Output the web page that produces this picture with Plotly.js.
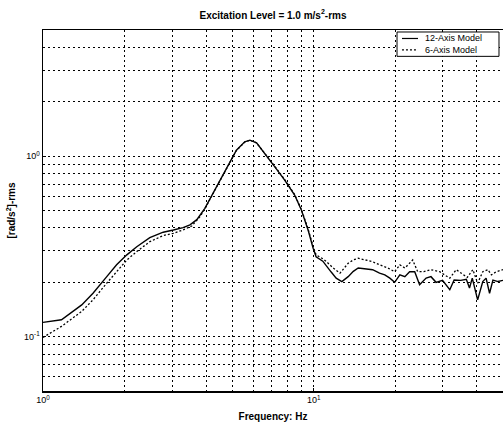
<!DOCTYPE html>
<html>
<head>
<meta charset="utf-8">
<script src="https://cdn.plot.ly/plotly-3.0.1.min.js"></script>
<style>html,body{margin:0;padding:0;background:#fff;}#chart{width:503px;height:422px;}</style>
</head>
<body>
<div id="chart"></div>
<script>
// Frequency (Hz) and angular acceleration ([rad/s^2]-rms)
const freq12 = [1, 1.17, 1.39, 1.53, 1.72, 1.87, 2.04, 2.22, 2.48, 2.78, 3.03, 3.29, 3.49, 3.7, 3.96, 4.37, 4.76, 5.18, 5.56, 5.81, 6.15, 6.6, 7.18, 7.81, 8.5, 9.0, 9.53, 9.95, 10.2, 10.8, 11.15, 11.6, 12.1, 12.7, 13.4, 14.0, 14.6, 15.5, 16.5, 17.5, 18.3, 19.1, 19.9, 20.8, 21.7, 22.6, 23.6, 24.6, 26.0, 27.1, 28.3, 29.9, 31.8, 33.0, 34.9, 36.6, 37.6, 38.5, 40.3, 42.1, 43.3, 44.6, 45.9, 47.9, 50];
const val12 = [0.12, 0.124, 0.150, 0.174, 0.215, 0.25, 0.284, 0.315, 0.354, 0.379, 0.39, 0.402, 0.416, 0.445, 0.514, 0.677, 0.855, 1.079, 1.2, 1.226, 1.184, 1.035, 0.873, 0.737, 0.609, 0.503, 0.39, 0.309, 0.277, 0.262, 0.245, 0.228, 0.211, 0.202, 0.215, 0.23, 0.24, 0.238, 0.235, 0.225, 0.22, 0.211, 0.2, 0.22, 0.215, 0.229, 0.229, 0.194, 0.211, 0.215, 0.2, 0.205, 0.182, 0.206, 0.205, 0.208, 0.186, 0.211, 0.16, 0.202, 0.211, 0.174, 0.206, 0.202, 0.205];
const freq6 = [1, 1.17, 1.39, 1.53, 1.72, 1.87, 2.04, 2.22, 2.48, 2.78, 3.03, 3.29, 3.54, 3.8, 3.96, 4.37, 4.76, 5.18, 5.56, 5.81, 6.15, 6.6, 7.18, 7.81, 8.5, 9.0, 9.53, 9.95, 10.2, 10.8, 11.15, 11.8, 12.5, 13.4, 14.0, 14.6, 15.5, 16.5, 17.5, 18.8, 19.9, 20.8, 21.7, 23.2, 24.2, 25.5, 27.1, 29.2, 30.4, 31.8, 33.6, 35.2, 36.9, 38.7, 40.3, 42.1, 44.0, 45.3, 47.2, 50];
const val6 = [0.099, 0.114, 0.138, 0.16, 0.198, 0.229, 0.266, 0.296, 0.336, 0.363, 0.374, 0.39, 0.41, 0.462, 0.51, 0.672, 0.85, 1.075, 1.197, 1.224, 1.184, 1.04, 0.878, 0.742, 0.613, 0.507, 0.395, 0.315, 0.284, 0.27, 0.26, 0.24, 0.225, 0.255, 0.266, 0.272, 0.265, 0.26, 0.25, 0.24, 0.229, 0.25, 0.24, 0.266, 0.229, 0.229, 0.235, 0.229, 0.22, 0.211, 0.235, 0.225, 0.213, 0.235, 0.198, 0.229, 0.235, 0.22, 0.229, 0.235];
const seriesNames = ['12-Axis Model', '6-Axis Model'];

const xMajorVals = [1, 10];
const xMajorText = ['10<sup>0</sup>', '10<sup>1</sup>'];
const xMinorVals = [2, 3, 4, 5, 6, 7, 8, 9, 20, 30, 40, 50];
const yMajorVals = [0.1, 1];
const yMajorText = ['10<sup>-1</sup>', '10<sup>0</sup>'];
const yMinorVals = [0.05, 0.06, 0.07, 0.08, 0.09, 0.2, 0.3, 0.4, 0.5, 0.6, 0.7, 0.8, 0.9, 2, 3, 4, 5];

const FONT = 'Liberation Sans, Arial, sans-serif';
const SOLID = 'solid';
const DOTTED = '2px,2px';

const traces = [
  {x: freq12, y: val12, name: seriesNames[0], type: 'scatter', mode: 'lines',
   line: {color: '#000', width: 1.4, dash: SOLID}},
  {x: freq6, y: val6, name: seriesNames[1], type: 'scatter', mode: 'lines',
   line: {color: '#000', width: 1.3, dash: DOTTED}}
];

const GRIDDASH = '2px,3px';
const axisCommon = {
  type: 'log', showgrid: true, gridcolor: '#000', gridwidth: 1, griddash: GRIDDASH,
  showline: true, linecolor: '#000', linewidth: 1.5, mirror: true, zeroline: false,
  ticks: 'inside', ticklen: 3, tickcolor: '#000', tickmode: 'array',
  tickfont: {family: FONT, size: 9, color: '#000'}
};
const minorCommon = {tickmode: 'array', showgrid: true, gridcolor: '#000', gridwidth: 1,
  griddash: GRIDDASH, ticks: '', ticklen: 0};

// Legend drawn as a small boxed key (paper coordinates of the plot area)
const legX0 = 0.7696, legX1 = 0.9913, legY0 = 0.927, legY1 = 0.9945;
const keyX0 = 0.7804, keyX1 = 0.8152, txtX = 0.826;
const rowY = [0.9765, 0.945];

const layout = {
  width: 503, height: 422,
  margin: {l: 43, r: 0, t: 30, b: 31},
  paper_bgcolor: '#fff', plot_bgcolor: '#fff',
  font: {family: FONT, color: '#000'},
  showlegend: false,
  title: {text: 'Excitation Level = 1.0 m/s<sup>2</sup>-rms', x: 0.5, xref: 'paper',
          y: 0.964, yref: 'container', yanchor: 'middle',
          font: {family: FONT, size: 10, weight: 'bold', color: '#000'}},
  xaxis: Object.assign({}, axisCommon, {
    range: [0, Math.log10(50)], tickvals: xMajorVals, ticktext: xMajorText,
    minor: Object.assign({tickvals: xMinorVals}, minorCommon),
    title: {text: 'Frequency: Hz', standoff: 8, font: {family: FONT, size: 10, weight: 'bold', color: '#000'}}
  }),
  yaxis: Object.assign({}, axisCommon, {
    range: [Math.log10(0.05), Math.log10(5)], tickvals: yMajorVals, ticktext: yMajorText,
    minor: Object.assign({tickvals: yMinorVals}, minorCommon),
    title: {text: '[rad/s<sup>2</sup>]-rms', standoff: 6, font: {family: FONT, size: 10, weight: 'bold', color: '#000'}}
  }),
  shapes: [
    {type: 'rect', xref: 'paper', yref: 'paper', x0: legX0, x1: legX1, y0: legY0, y1: legY1,
     fillcolor: '#fff', line: {color: '#000', width: 1}, layer: 'above'},
    {type: 'line', xref: 'paper', yref: 'paper', x0: keyX0, x1: keyX1, y0: rowY[0], y1: rowY[0],
     line: {color: '#000', width: 1.2, dash: SOLID}, layer: 'above'},
    {type: 'line', xref: 'paper', yref: 'paper', x0: keyX0, x1: keyX1, y0: rowY[1], y1: rowY[1],
     line: {color: '#000', width: 1.2, dash: DOTTED}, layer: 'above'}
  ],
  annotations: [
    {xref: 'paper', yref: 'paper', x: txtX, y: (rowY[0] + rowY[1]) / 2, xanchor: 'left', yanchor: 'middle',
     align: 'left', text: seriesNames.join('<br>'), showarrow: false,
     font: {family: FONT, size: 9, color: '#000'}}
  ]
};

Plotly.newPlot('chart', traces, layout, {staticPlot: true, displayModeBar: false});
</script>
</body>
</html>
